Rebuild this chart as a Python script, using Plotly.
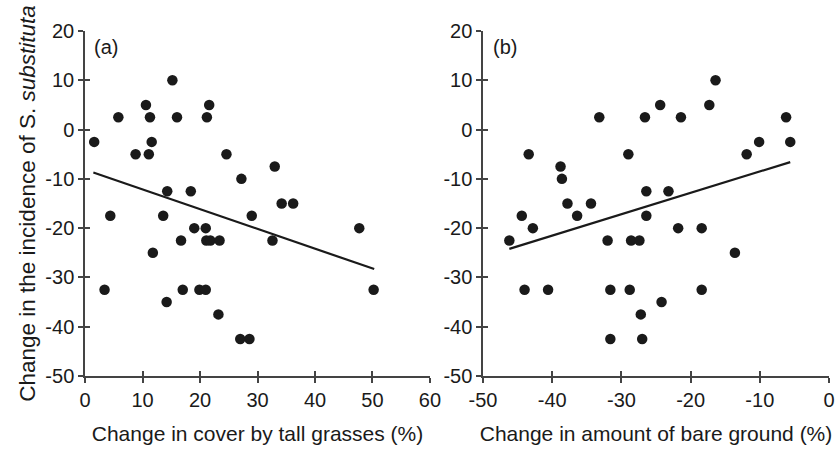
import plotly.graph_objects as go

# Panel (a): change in cover by tall grasses (%) vs change in incidence
grass_x = [1.6, 5.8, 15.2, 10.6, 11.3, 16.0, 11.6, 8.8, 11.1, 21.2, 21.6, 24.6, 27.2,
           33.0, 14.3, 18.4, 4.4, 13.6, 19.0, 21.0, 16.7, 21.1, 21.8, 23.4, 29.0, 34.2,
           36.2, 32.6, 47.7, 11.8, 3.4, 17.0, 19.9, 21.0, 14.2, 23.2, 27.0, 28.6, 50.2]
grass_y = [-2.5, 2.5, 10, 5, 2.5, 2.5, -2.5, -5, -5, 2.5, 5, -5, -10,
           -7.5, -12.5, -12.5, -17.5, -17.5, -20, -20, -22.5, -22.5, -22.5, -22.5, -17.5, -15,
           -15, -22.5, -20, -25, -32.5, -32.5, -32.5, -32.5, -35, -37.5, -42.5, -42.5, -32.5]
grass_fit_x = [1.45, 50.3]
grass_fit_y = [-8.7, -28.3]

# Panel (b): change in amount of bare ground (%) vs change in incidence
bare_x = [-43.4, -38.8, -38.6, -33.2, -29.0, -26.6, -24.4, -21.4, -17.3, -16.4, -11.9, -10.1,
          -6.2, -5.6, -26.4, -23.2, -37.8, -34.4, -44.4, -36.4, -26.4, -42.8, -21.8, -18.4,
          -46.2, -32.0, -28.6, -27.4, -13.6, -44.0, -40.6, -31.6, -28.8, -18.4, -24.2, -27.2,
          -31.6, -27.0]
bare_y = [-5, -7.5, -10, 2.5, -5, 2.5, 5, 2.5, 5, 10, -5, -2.5,
          2.5, -2.5, -12.5, -12.5, -15, -15, -17.5, -17.5, -17.5, -20, -20, -20,
          -22.5, -22.5, -22.5, -22.5, -25, -32.5, -32.5, -32.5, -32.5, -32.5, -35, -37.5,
          -42.5, -42.5]
bare_fit_x = [-46.2, -5.6]
bare_fit_y = [-24.2, -6.6]

y_ticks = [20, 10, 0, -10, -20, -30, -40, -50]
y_ticktext = ["20", "10", "0", "-10", "-20", "-30", "-40", "-50"]
grass_ticks = [0, 10, 20, 30, 40, 50, 60]
grass_ticktext = ["0", "10", "20", "30", "40", "50", "60"]
bare_ticks = [-50, -40, -30, -20, -10, 0]
bare_ticktext = ["-50", "-40", "-30", "-20", "-10", "0"]

FONT = "Liberation Sans, Arial, sans-serif"
INK = "#1a1a1a"
AX = "#444444"
MS = 10.5

fig = go.Figure()
fig.add_trace(go.Scatter(x=grass_x, y=grass_y, mode="markers", xaxis="x", yaxis="y",
                         marker=dict(color=INK, size=MS), showlegend=False))
fig.add_trace(go.Scatter(x=grass_fit_x, y=grass_fit_y, mode="lines", xaxis="x", yaxis="y",
                         line=dict(color=INK, width=2.2), showlegend=False))
fig.add_trace(go.Scatter(x=bare_x, y=bare_y, mode="markers", xaxis="x2", yaxis="y2",
                         marker=dict(color=INK, size=MS), showlegend=False))
fig.add_trace(go.Scatter(x=bare_fit_x, y=bare_fit_y, mode="lines", xaxis="x2", yaxis="y2",
                         line=dict(color=INK, width=2.2), showlegend=False))
# empty traces for inner-tick overlay axes
for xa, ya in [("x3", "y"), ("x", "y3"), ("x4", "y2"), ("x2", "y4")]:
    fig.add_trace(go.Scatter(x=[None], y=[None], xaxis=xa, yaxis=ya, showlegend=False,
                             hoverinfo="skip"))

base = dict(showline=True, linecolor=AX, linewidth=1.5, ticks="outside", ticklen=5,
            tickwidth=1.5, tickcolor=AX, showgrid=False, zeroline=False, automargin=False,
            tickfont=dict(family=FONT, size=20, color=INK))
inner = dict(showline=False, ticks="inside", ticklen=5, tickwidth=1.5, tickcolor=AX,
             showgrid=False, zeroline=False, showticklabels=False, automargin=False)

dA = [0, 0.4637]
dB = [0.535, 1]

fig.update_layout(
    width=837, height=451,
    margin=dict(l=85, r=8, t=31, b=75),
    paper_bgcolor="white", plot_bgcolor="white",
    font=dict(family=FONT, color=INK),
    xaxis=dict(base, domain=dA, range=[0, 60], anchor="y", tickvals=grass_ticks,
               ticktext=grass_ticktext,
               title=dict(text="Change in cover by tall grasses (%)",
                          font=dict(family=FONT, size=21, color=INK), standoff=17)),
    yaxis=dict(base, domain=[0, 1], range=[-50, 20], anchor="x", tickvals=y_ticks,
               ticktext=y_ticktext,
               title=dict(text="Change in the incidence of S. <i>substituta</i>",
                          font=dict(family=FONT, size=22.5, color=INK), standoff=3)),
    xaxis2=dict(base, domain=dB, range=[-50, 0], anchor="y2", tickvals=bare_ticks,
                ticktext=bare_ticktext,
                title=dict(text="Change in amount of bare ground (%)",
                           font=dict(family=FONT, size=21, color=INK), standoff=17)),
    yaxis2=dict(base, domain=[0, 1], range=[-50, 20], anchor="x2", tickvals=y_ticks,
                ticktext=y_ticktext),
    xaxis3=dict(inner, overlaying="x", anchor="y", range=[0, 60], tickvals=grass_ticks),
    yaxis3=dict(inner, overlaying="y", anchor="x", range=[-50, 20], tickvals=y_ticks),
    xaxis4=dict(inner, overlaying="x2", anchor="y2", range=[-50, 0], tickvals=bare_ticks),
    yaxis4=dict(inner, overlaying="y2", anchor="x2", range=[-50, 20], tickvals=y_ticks),
    annotations=[
        dict(text="(a)", xref="x domain", yref="y domain", x=0.02, y=0.955,
             xanchor="left", yanchor="middle", showarrow=False,
             font=dict(family=FONT, size=20, color=INK)),
        dict(text="(b)", xref="x2 domain", yref="y2 domain", x=0.022, y=0.955,
             xanchor="left", yanchor="middle", showarrow=False,
             font=dict(family=FONT, size=20, color=INK)),
    ],
)

fig.write_html("out.html")
